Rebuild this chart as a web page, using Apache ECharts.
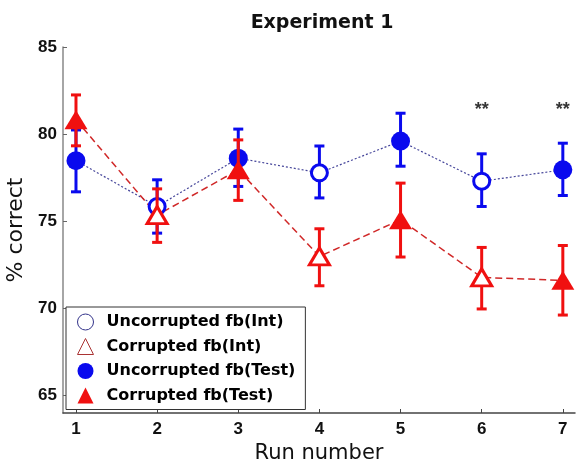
<!DOCTYPE html>
<html>
<head>
<meta charset="utf-8">
<script src="https://cdn.jsdelivr.net/npm/echarts@6/dist/echarts.min.js"></script>
<style>
  html, body { margin: 0; padding: 0; background: #fff; }
  #main { width: 576px; height: 459px; }
</style>
</head>
<body>
<div id="main"></div>
<script>
// run numbers and tick values
var runs = [1, 2, 3, 4, 5, 6, 7]
var yTicks = [65, 70, 75, 80, 85]
var intRuns = [2, 4, 6]
var testRuns = [1, 3, 5, 7]

// uncorrupted feedback (blue)
var blueMean = [78.48, 75.85, 78.62, 77.78, 79.6, 77.3, 77.95]
var blueLow = [76.69, 74.32, 77.0, 76.34, 78.16, 75.85, 76.48]
var blueHigh = [80.24, 77.38, 80.29, 79.32, 81.2, 78.87, 79.48]

// corrupted feedback (red)
var redMean = [80.82, 75.35, 77.95, 72.98, 75.09, 71.78, 71.61]
var redLow = [79.33, 73.79, 76.2, 71.3, 72.95, 69.97, 69.62]
var redHigh = [82.25, 76.86, 79.67, 74.57, 77.19, 73.5, 73.61]

// significance marks
var starRuns = [6, 7]
var starY = [81.4, 81.4]

var BLUE = '#0a0aee'
var RED = '#f01010'
var WIDE = 'DejaVu Sans'
var TICK = 'Liberation Sans'

function pts (mean, which) {
  var out = []
  for (var i = 0; i < runs.length; i++) {
    if (which.indexOf(runs[i]) >= 0) out.push([runs[i], mean[i]])
  }
  return out
}

function errData (low, high) {
  return runs.map(function (r, i) { return [r, low[i], high[i]] })
}

// vertical bar with caps, drawn through the axis scales
function errBars (color) {
  return function (params, api) {
    var lo = api.coord([api.value(0), api.value(1)])
    var hi = api.coord([api.value(0), api.value(2)])
    var w = 5
    var st = { stroke: color, lineWidth: 3 }
    return {
      type: 'group',
      children: [
        { type: 'line', shape: { x1: lo[0], y1: lo[1], x2: hi[0], y2: hi[1] }, style: st },
        { type: 'line', shape: { x1: lo[0] - w, y1: lo[1], x2: lo[0] + w, y2: lo[1] }, style: st },
        { type: 'line', shape: { x1: hi[0] - w, y1: hi[1], x2: hi[0] + w, y2: hi[1] }, style: st }
      ]
    }
  }
}

var myChart = echarts.init(document.getElementById('main'))

var option = {
  backgroundColor: '#fff',
  animation: false,
  title: {
    text: 'Experiment 1',
    left: 317,
    top: 9,
    textAlign: 'center',
    textStyle: { fontFamily: WIDE, fontSize: 19, fontWeight: 'bold', color: '#111' }
  },
  grid: { left: 63, right: 1, top: 47, bottom: 46, containLabel: false, outerBoundsMode: 'none' },
  legend: {
    orient: 'vertical',
    left: 66,
    top: 307,
    padding: [3, 10, 2, 11],
    itemGap: 0.5,
    itemWidth: 16,
    itemHeight: 16,
    borderColor: '#333',
    borderWidth: 1,
    backgroundColor: '#fff',
    textStyle: { fontFamily: WIDE, fontSize: 16, fontWeight: 'bold', color: '#000', lineHeight: 24, padding: [0, 0, 0, 8] },
    data: [
      { name: 'Uncorrupted fb(Int)', icon: 'circle', itemStyle: { color: '#fff', borderColor: '#33338a', borderWidth: 1 } },
      { name: 'Corrupted fb(Int)', icon: 'triangle', itemStyle: { color: '#fff', borderColor: '#a33', borderWidth: 1 } },
      { name: 'Uncorrupted fb(Test)', icon: 'circle', itemStyle: { color: BLUE, borderWidth: 0 } },
      { name: 'Corrupted fb(Test)', icon: 'triangle', itemStyle: { color: RED, borderWidth: 0 } }
    ]
  },
  xAxis: {
    type: 'value',
    min: 0.84,
    max: 7.15,
    name: 'Run number',
    nameLocation: 'middle',
    nameGap: 17,
    nameTextStyle: { fontFamily: WIDE, fontSize: 21, color: '#111' },
    axisLine: { lineStyle: { color: '#444', width: 1.5 } },
    axisTick: { inside: true, length: 4, customValues: runs, lineStyle: { color: '#444' } },
    axisLabel: { customValues: runs, fontFamily: TICK, fontSize: 17, fontWeight: 'bold', color: '#111', margin: 8 },
    splitLine: { show: false }
  },
  yAxis: {
    type: 'value',
    min: 64,
    max: 85,
    name: '% correct',
    nameLocation: 'middle',
    nameGap: 32,
    nameTextStyle: { fontFamily: WIDE, fontSize: 22, color: '#111' },
    axisLine: { show: true, lineStyle: { color: '#888', width: 1.5 } },
    axisTick: { show: true, inside: true, length: 4, customValues: yTicks, lineStyle: { color: '#666' } },
    axisLabel: { customValues: yTicks, fontFamily: TICK, fontSize: 17, fontWeight: 'bold', color: '#111', margin: 6 },
    splitLine: { show: false }
  },
  series: [
    {
      name: 'blue line',
      type: 'line',
      data: runs.map(function (r, i) { return [r, blueMean[i]] }),
      symbol: 'none',
      lineStyle: { color: '#45459a', width: 1.2, type: [2, 2] },
      z: 1
    },
    {
      name: 'red line',
      type: 'line',
      data: runs.map(function (r, i) { return [r, redMean[i]] }),
      symbol: 'none',
      lineStyle: { color: '#d02828', width: 1.5, type: [7, 4] },
      z: 1
    },
    {
      type: 'custom',
      renderItem: errBars(BLUE),
      data: errData(blueLow, blueHigh),
      encode: { x: 0, y: [1, 2] },
      z: 2
    },
    {
      name: 'Uncorrupted fb(Int)',
      type: 'scatter',
      data: pts(blueMean, intRuns),
      symbol: 'circle',
      symbolSize: 16,
      itemStyle: { color: '#fff', borderColor: BLUE, borderWidth: 3, opacity: 1 },
      z: 3
    },
    {
      name: 'Uncorrupted fb(Test)',
      type: 'scatter',
      data: pts(blueMean, testRuns),
      symbol: 'circle',
      symbolSize: 19,
      itemStyle: { color: BLUE, opacity: 1 },
      z: 3
    },
    {
      type: 'custom',
      renderItem: errBars(RED),
      data: errData(redLow, redHigh),
      encode: { x: 0, y: [1, 2] },
      z: 4
    },
    {
      name: 'Corrupted fb(Int)',
      type: 'scatter',
      data: pts(redMean, intRuns),
      symbol: 'triangle',
      symbolSize: [20, 17],
      itemStyle: { color: '#fff', borderColor: RED, borderWidth: 3, opacity: 1 },
      z: 5
    },
    {
      name: 'Corrupted fb(Test)',
      type: 'scatter',
      data: pts(redMean, testRuns),
      symbol: 'triangle',
      symbolSize: [23, 19],
      itemStyle: { color: RED, opacity: 1 },
      z: 5
    },
    {
      name: 'stars',
      type: 'scatter',
      data: starRuns.map(function (r, i) { return [r, starY[i]] }),
      symbolSize: 1,
      itemStyle: { color: 'rgba(0,0,0,0)' },
      label: {
        show: true,
        position: 'inside',
        formatter: '**',
        fontFamily: TICK,
        fontSize: 18,
        fontWeight: 'bold',
        color: '#000'
      },
      z: 6
    }
  ]
}

myChart.setOption(option)
</script>
</body>
</html>
